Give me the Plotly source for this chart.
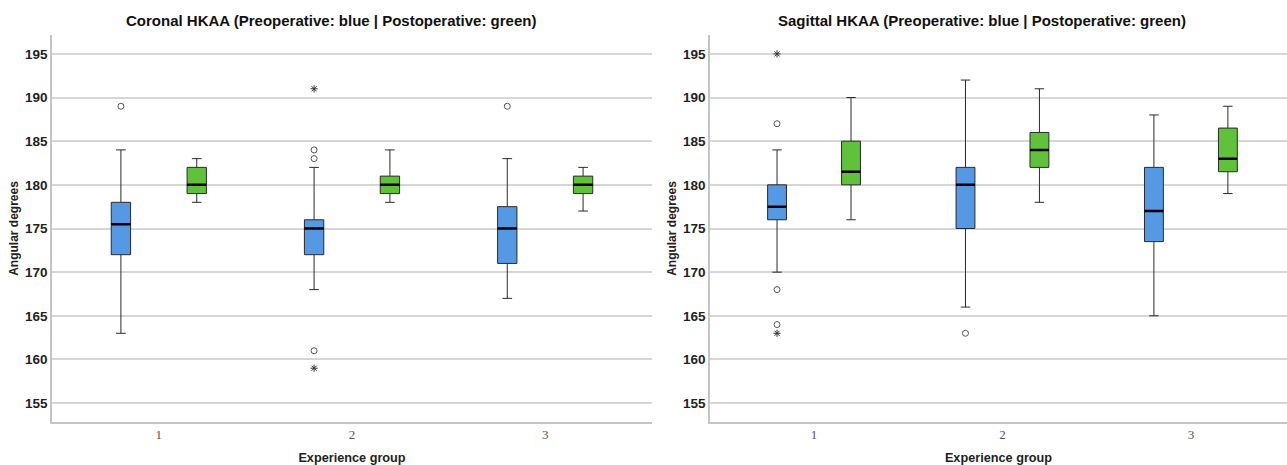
import plotly.graph_objects as go

# ---------------- data ----------------
groups = ["1", "2", "3"]

# Coronal HKAA - preoperative (blue)
cor_pre_low = [163, 168, 167]
cor_pre_q1 = [172, 172, 171]
cor_pre_med = [175.5, 175, 175]
cor_pre_q3 = [178, 176, 177.5]
cor_pre_high = [184, 182, 183]
cor_pre_outliers = [[189], [184, 183, 161], [189]]
cor_pre_extremes = [[None], [191, 159], [None]]

# Coronal HKAA - postoperative (green)
cor_post_low = [178, 178, 177]
cor_post_q1 = [179, 179, 179]
cor_post_med = [180, 180, 180]
cor_post_q3 = [182, 181, 181]
cor_post_high = [183, 184, 182]

# Sagittal HKAA - preoperative (blue)
sag_pre_low = [170, 166, 165]
sag_pre_q1 = [176, 175, 173.5]
sag_pre_med = [177.5, 180, 177]
sag_pre_q3 = [180, 182, 182]
sag_pre_high = [184, 192, 188]
sag_pre_outliers = [[187, 168, 164], [163], [None]]
sag_pre_extremes = [[195, 163], [None], [None]]

# Sagittal HKAA - postoperative (green)
sag_post_low = [176, 178, 179]
sag_post_q1 = [180, 182, 181.5]
sag_post_med = [181.5, 184, 183]
sag_post_q3 = [185, 186, 186.5]
sag_post_high = [190, 191, 189]

titles = ["Coronal HKAA (Preoperative: blue | Postoperative: green)",
          "Sagittal HKAA (Preoperative: blue | Postoperative: green)"]

# ---------------- styling ----------------
BLUE = "#5598E4"
GREEN = "#60C23A"
EDGE = "#2a2a2a"
W, H = 1287, 465

fig = go.Figure()


def add_panel(xa, ya, pre, post, pre_out, pre_ext):
    low, q1, med, q3, high = pre
    fig.add_trace(go.Box(
        x=groups, y=pre_out, q1=q1, median=med, q3=q3,
        lowerfence=low, upperfence=high, orientation="v",
        boxpoints="outliers", jitter=0, pointpos=0,
        marker=dict(symbol="circle-open", size=6, color="#555555",
                    line=dict(width=1)),
        fillcolor=BLUE, line=dict(color=EDGE, width=1),
        offsetgroup="pre", xaxis=xa, yaxis=ya, showlegend=False))
    plow, pq1, pmed, pq3, phigh = post
    fig.add_trace(go.Box(
        x=groups, q1=pq1, median=pmed, q3=pq3,
        lowerfence=plow, upperfence=phigh, orientation="v",
        boxpoints=False,
        fillcolor=GREEN, line=dict(color=EDGE, width=1),
        offsetgroup="post", xaxis=xa, yaxis=ya, showlegend=False))
    # thick black median lines
    for m, og in ((med, "pre"), (pmed, "post")):
        fig.add_trace(go.Box(
            x=groups, q1=m, median=m, q3=m, lowerfence=m, upperfence=m,
            orientation="v", boxpoints=False, whiskerwidth=0,
            fillcolor="rgba(0,0,0,0)", line=dict(color="#000000", width=2.5),
            offsetgroup=og, xaxis=xa, yaxis=ya, showlegend=False,
            hoverinfo="skip"))
    # extreme values (asterisks)
    fig.add_trace(go.Box(
        x=groups, y=pre_ext, q1=med, median=med, q3=med,
        lowerfence=med, upperfence=med, orientation="v",
        boxpoints="all", jitter=0, pointpos=0, whiskerwidth=0,
        marker=dict(symbol="asterisk-open", size=6, color="#333333",
                    line=dict(width=1)),
        fillcolor="rgba(0,0,0,0)", line=dict(color="rgba(0,0,0,0)", width=0),
        offsetgroup="pre", xaxis=xa, yaxis=ya, showlegend=False))


add_panel("x", "y",
          (cor_pre_low, cor_pre_q1, cor_pre_med, cor_pre_q3, cor_pre_high),
          (cor_post_low, cor_post_q1, cor_post_med, cor_post_q3, cor_post_high),
          cor_pre_outliers, cor_pre_extremes)
add_panel("x2", "y2",
          (sag_pre_low, sag_pre_q1, sag_pre_med, sag_pre_q3, sag_pre_high),
          (sag_post_low, sag_post_q1, sag_post_med, sag_post_q3, sag_post_high),
          sag_pre_outliers, sag_pre_extremes)

FONT = "Liberation Sans, Arial, sans-serif"
xcommon = dict(type="category", showgrid=False, zeroline=False,
               showline=True, linecolor="#C4C4C4", linewidth=1.5, ticks="",
               tickfont=dict(family="Liberation Serif, serif", size=13, color="#555555"),
               title=dict(text="Experience group",
                          font=dict(family=FONT, size=12.7, color="#222222", weight="bold"),
                          standoff=13))
ycommon = dict(type="linear", range=[152.84, 197.16], dtick=5, tick0=155, showgrid=True,
               gridcolor="#D6D6D6", gridwidth=1.5, zeroline=False,
               showline=True, linecolor="#C4C4C4", linewidth=1.5, ticks="",
               tickfont=dict(family=FONT, size=13.5, color="#222222", weight="bold"),
               title=dict(text="Angular degrees",
                          font=dict(family=FONT, size=12, color="#222222", weight="bold"),
                          standoff=4))

fig.update_layout(
    width=W, height=H,
    margin=dict(l=0, r=0, t=35, b=43),
    paper_bgcolor="white", plot_bgcolor="white",
    boxmode="group", boxgap=0.215, boxgroupgap=0.745,
    xaxis=dict(domain=[52 / W, 652 / W], range=[-0.553, 2.553], anchor="y", **xcommon),
    yaxis=dict(anchor="x", **ycommon),
    xaxis2=dict(domain=[710 / W, 1.0], range=[-0.552, 2.51], anchor="y2", **xcommon),
    yaxis2=dict(anchor="x2", **ycommon),
    annotations=[
        dict(text=titles[0], xref="paper", yref="paper", x=331 / W, y=1,
             yshift=15, showarrow=False, xanchor="center", yanchor="middle",
             font=dict(family=FONT, size=15, color="#111111", weight="bold")),
        dict(text=titles[1], xref="paper", yref="paper", x=982 / W, y=1,
             yshift=15, showarrow=False, xanchor="center", yanchor="middle",
             font=dict(family=FONT, size=15, color="#111111", weight="bold")),
    ],
)

fig.write_html(
    "out.html",
    config={"displayModeBar": False},
    post_script="document.body.style.margin='0';document.body.style.padding='0';"
                "document.body.style.overflow='hidden';",
)
